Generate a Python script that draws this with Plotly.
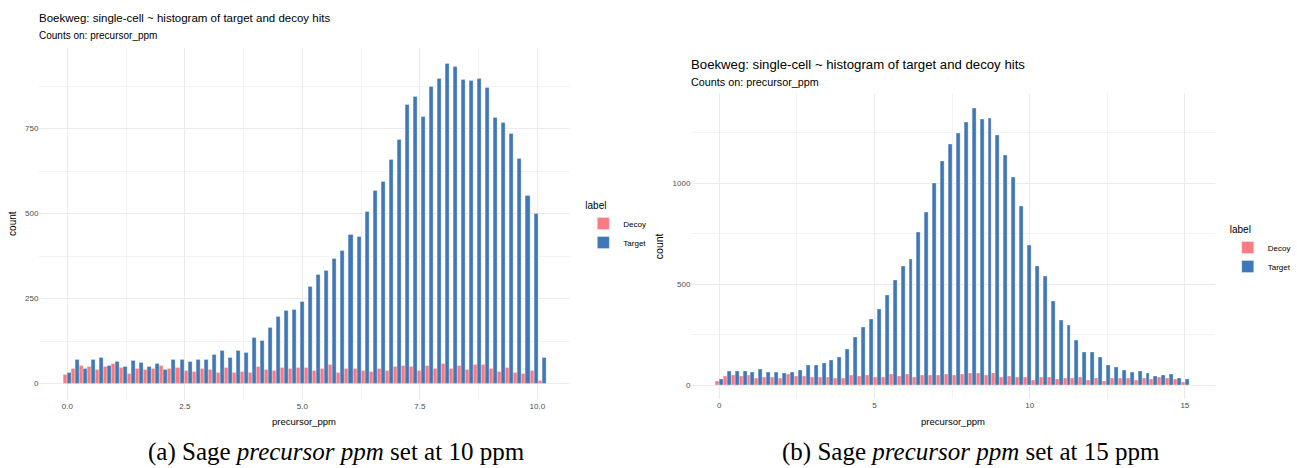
import numpy as np
import plotly.graph_objects as go

# ---------------- data ----------------
labels = ["Decoy", "Target"]

# Panel (a): precursor_ppm 10, 60 bins
a_max = 10.1
a_target = [33, 70, 45, 70, 75, 53, 64, 49, 67, 62, 49, 58, 42, 71, 71, 64, 69, 69, 86, 98,
            77, 96, 90, 134, 127, 164, 197, 214, 218, 240, 286, 320, 332, 366, 391, 439, 432, 506, 568, 595,
            658, 716, 819, 845, 786, 874, 897, 941, 931, 894, 890, 897, 870, 781, 767, 734, 661, 552, 501, 76]
a_decoy = [25, 44, 53, 51, 41, 51, 58, 46, 28, 44, 42, 44, 53, 44, 47, 39, 35, 44, 41, 32,
           47, 32, 35, 32, 49, 42, 37, 47, 44, 46, 47, 38, 44, 56, 32, 45, 43, 39, 35, 44,
           37, 50, 53, 50, 37, 52, 44, 58, 45, 54, 42, 56, 56, 45, 35, 47, 33, 30, 39, 9]

# Panel (b): precursor_ppm 15, 60 bins
b_max = 15.02
b_target = [31, 71, 71, 71, 63, 81, 63, 66, 59, 66, 76, 97, 101, 111, 125, 137, 177, 239, 287, 327,
            378, 446, 521, 589, 625, 757, 856, 1002, 1107, 1191, 1247, 1300, 1373, 1318, 1322, 1237, 1137, 1028, 884, 695,
            589, 538, 414, 323, 297, 221, 163, 163, 137, 101, 89, 76, 64, 68, 58, 46, 51, 54, 36, 28]
b_decoy = [21, 46, 51, 46, 51, 36, 40, 40, 36, 56, 45, 46, 40, 40, 40, 36, 36, 51, 46, 51,
           40, 40, 56, 46, 56, 40, 51, 51, 51, 56, 50, 53, 59, 59, 50, 59, 38, 43, 40, 40,
           26, 38, 38, 30, 33, 33, 40, 23, 33, 20, 33, 33, 33, 25, 33, 30, 40, 33, 30, 13]

title_text = "Boekweg: single-cell ~ histogram of target and decoy hits"
subtitle_text = "Counts on: precursor_ppm"
caption_a = "(a) Sage <i>precursor ppm</i> set at 10 ppm"
caption_b = "(b) Sage <i>precursor ppm</i> set at 15 ppm"

# ---------------- style ----------------
W, H = 1297, 468
col = {"Decoy": "#FC7A83", "Target": "#3E78B6"}
grid_major = "#EBEBEB"
grid_minor = "#F3F3F3"
font_main = "Liberation Sans"


def px_x(p):
    return p / W


def px_y(p):
    return 1 - p / H


fig = go.Figure()


def add_panel(vmax, target, decoy, xa, ya, legend_name):
    nb = len(target)
    width = vmax / (nb - 1)
    centers = np.arange(nb) * width
    for lab, vals, off in (("Decoy", decoy, -width / 2), ("Target", target, 0.0)):
        fig.add_trace(go.Bar(
            x=centers, y=vals, width=width / 2, offset=off,
            name=lab, marker=dict(color=col[lab], line=dict(color="rgba(255,255,255,0.55)", width=0.6)),
            xaxis=xa, yaxis=ya, legend=legend_name, showlegend=True,
        ))


add_panel(a_max, a_target, a_decoy, "x", "y", "legend")
add_panel(b_max, b_target, b_decoy, "x2", "y2", "legend2")

axis_common = dict(
    showline=False, zeroline=False, ticks="", showgrid=True,
    gridcolor=grid_major, gridwidth=1,
    tickfont=dict(family=font_main, size=8, color="#4D4D4D"),
)

fig.update_layout(
    width=W, height=H, margin=dict(l=0, r=0, t=0, b=0),
    paper_bgcolor="white", plot_bgcolor="white",
    barmode="overlay", bargap=0,
    font=dict(family=font_main, color="black"),
    xaxis=dict(domain=[px_x(40), px_x(578)], range=[-0.593, 10.686], anchor="y",
               tick0=0, dtick=2.5, tickformat=".1f",
               minor=dict(dtick=1.25, tick0=0, showgrid=True, gridcolor=grid_minor, gridwidth=0.6),
               **axis_common),
    yaxis=dict(domain=[px_y(399.6), px_y(47.7)], range=[-47, 988], anchor="x",
               tick0=0, dtick=250,
               minor=dict(dtick=125, tick0=0, showgrid=True, gridcolor=grid_minor, gridwidth=0.6),
               **axis_common),
    xaxis2=dict(domain=[px_x(701.7), px_x(1232.7)], range=[-0.898, 15.96], anchor="y2",
                tick0=0, dtick=5,
                minor=dict(dtick=2.5, tick0=0, showgrid=True, gridcolor=grid_minor, gridwidth=0.6),
                **axis_common),
    yaxis2=dict(domain=[px_y(399.2), px_y(93.3)], range=[-69, 1445], anchor="x2",
                tick0=0, dtick=500,
                minor=dict(dtick=250, tick0=0, showgrid=True, gridcolor=grid_minor, gridwidth=0.6),
                **axis_common),
    legend=dict(x=px_x(592), y=px_y(196), xanchor="left", yanchor="top",
                title=dict(text="label", font=dict(size=10)),
                font=dict(size=8), itemwidth=30, tracegroupgap=0,
                bgcolor="rgba(0,0,0,0)"),
    legend2=dict(x=px_x(1246), y=px_y(220), xanchor="left", yanchor="top",
                 title=dict(text="label", font=dict(size=10)),
                 font=dict(size=8), itemwidth=30, tracegroupgap=0,
                 bgcolor="rgba(0,0,0,0)"),
)

ann = []


def txt(text, x, y, size, xanchor="left", angle=0, family=font_main, color="black"):
    ann.append(dict(text=text, x=px_x(x), y=px_y(y), xref="paper", yref="paper",
                    xanchor=xanchor, yanchor="middle", showarrow=False, textangle=angle,
                    font=dict(family=family, size=size, color=color)))


# panel (a) texts
txt(title_text, 38, 18, 11.5)
txt(subtitle_text, 38, 36, 10)
txt("count", 12.5, 223.6, 10, xanchor="center", angle=-90)
txt("precursor_ppm", 309, 421, 9.5, xanchor="center")
# panel (b) texts
txt(title_text, 699, 64.5, 13.2)
txt(subtitle_text, 699, 82, 10.8)
txt("count", 669, 246, 10.5, xanchor="center", angle=-90)
txt("precursor_ppm", 967, 421, 9.5, xanchor="center")
# captions
txt(caption_a, 341, 452, 25, xanchor="center", family="Liberation Serif")
txt(caption_b, 985, 452, 25, xanchor="center", family="Liberation Serif")

fig.update_layout(annotations=ann)

fig.write_html("out.html")
